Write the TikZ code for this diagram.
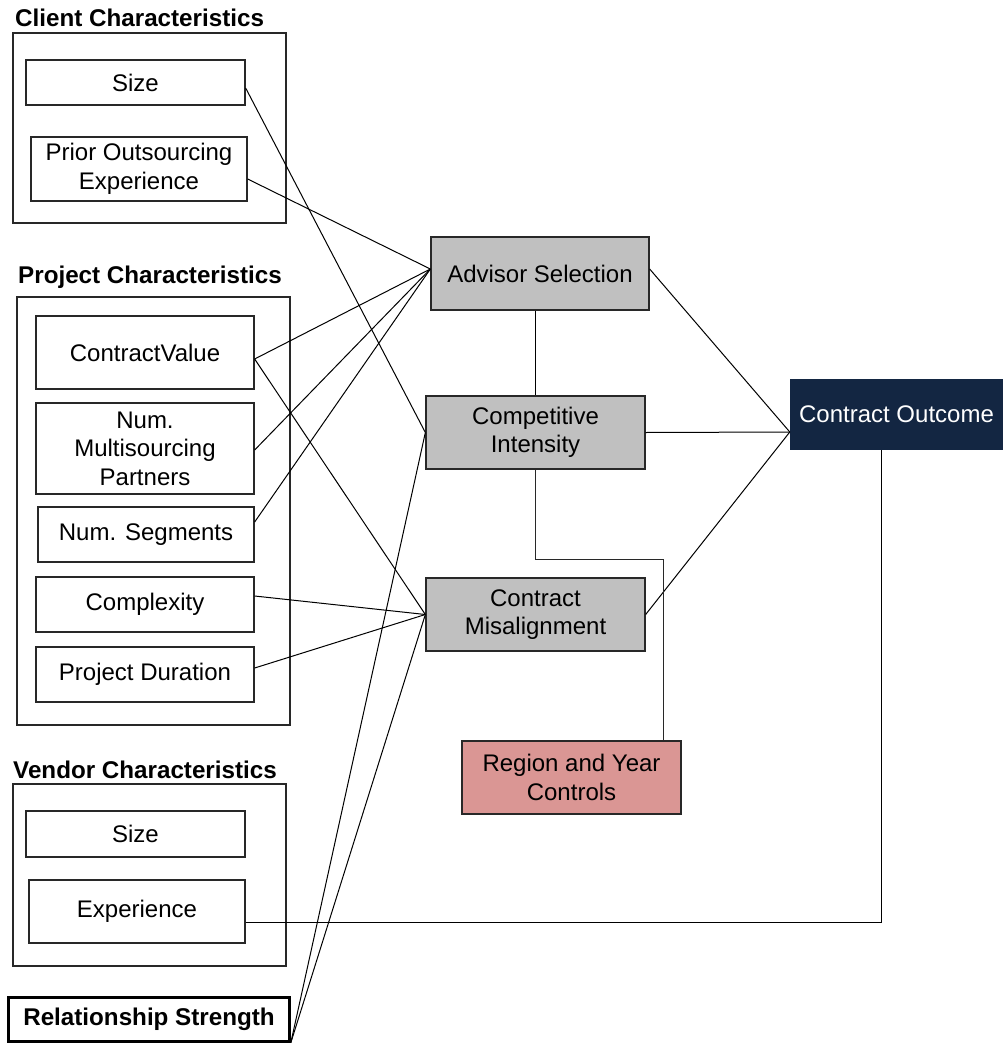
\documentclass[tikz,border=0pt]{standalone}
\usepackage{fontspec}
\setmainfont{Liberation Sans}
\usetikzlibrary{calc}
\definecolor{boxgray}{RGB}{192,192,192}
\definecolor{ctrlred}{RGB}{218,150,148}
\definecolor{navy}{RGB}{19,38,66}
\definecolor{edge}{RGB}{40,40,40}
\begin{document}
\begin{tikzpicture}[x=1pt,y=-1pt,
  txt/.style={font=\fontsize{24}{28.5}\selectfont, align=center, inner sep=0pt},
  box/.style={txt, draw=edge, line width=1.3pt, fill=white},
  frame/.style={draw=edge, line width=1.3pt, inner sep=0pt},
  var/.style={box, fill=boxgray},
  title/.style={font=\fontsize{24.2}{28}\selectfont\bfseries, inner sep=0pt, anchor=base west},
  link/.style={draw=black, line width=1pt}]
\useasboundingbox (0,0) rectangle (1003,1043);

% group frames
\node[frame, minimum width=273, minimum height=190] (cframe) at (149.5,128) {};
\node[frame, minimum width=273, minimum height=428] (pframe) at (153.5,511) {};
\node[frame, minimum width=273, minimum height=182] (vframe) at (149.5,875) {};

% titles
\node[title] (tclient) at (15,27) {Client Characteristics};
\node[title] (tproject) at (18,283) {Project Characteristics};
\node[title] (tvendor) at (13,778) {Vendor Characteristics};

% client
\node[box, minimum width=219, minimum height=45] (csize) at (135.5,82.5) {Size};
\node[box, minimum width=216, minimum height=64] (cprior) at (139,169) {Prior Outsourcing\\Experience};

% project
\node[box, minimum width=218, minimum height=73] (cv) at (145,352.5) {ContractValue};
\node[box, minimum width=218, minimum height=91] (nmp) at (145,448.5) {Num.\\Multisourcing\\Partners};
\node[box, minimum width=216, minimum height=55] (nseg) at (146,534.5) {Num. Segments};
\node[box, minimum width=218, minimum height=55] (cplx) at (145,604.5) {Complexity};
\node[box, minimum width=218, minimum height=55] (pdur) at (145,674.5) {Project Duration};

% vendor
\node[box, minimum width=219, minimum height=46] (vsize) at (135.5,834) {Size};
\node[box, minimum width=216, minimum height=63] (vexp) at (137,911.5) {Experience};

% relationship strength
\node[box, line width=2.6pt, draw=black, minimum width=281, minimum height=44, font=\fontsize{24.2}{28}\selectfont\bfseries] (rel) at (149,1019.5) {Relationship Strength};

% mediators
\node[var, minimum width=218, minimum height=73] (adv) at (540,273.5) {Advisor Selection};
\node[var, minimum width=219, minimum height=73] (comp) at (535.5,432.5) {Competitive\\Intensity};
\node[var, minimum width=219, minimum height=73] (mis) at (535.5,614.5) {Contract\\Misalignment};
\node[box, fill=ctrlred, minimum width=219, minimum height=73] (reg) at (571.5,777.5) {Region and Year\\Controls};
\node[txt, fill=navy, text=white, minimum width=213, minimum height=71] (co) at (896.5,414.5) {Contract Outcome};

% junctions
\coordinate (cin) at ([yshift=-17.5]co.west);
\coordinate (j1) at (663,559);
\coordinate (j2) at (881,922);

% client links
\draw[link] ([yshift=-5.5]csize.east) -- (comp.west);
\draw[link] ([yshift=-10]cprior.east) -- ([yshift=4.5]adv.west);

% project links
\draw[link] ([yshift=-6.5]cv.east) -- ([yshift=4.5]adv.west);
\draw[link] ([yshift=-6.5]cv.east) -- (mis.west);
\draw[link] ([yshift=-1.5]nmp.east) -- ([yshift=4.5]adv.west);
\draw[link] ([yshift=12.5]nseg.east) -- ([yshift=4.5]adv.west);
\draw[link] ([yshift=8.5]cplx.east) -- (mis.west);
\draw[link] ([yshift=6.5]pdur.east) -- (mis.west);

% relationship strength links
\draw[link] (rel.south east) -- (comp.west);
\draw[link] (rel.south east) -- (mis.west);

% mediator links
\draw[link] (adv.south -| comp.north) -- (comp.north);
\draw[link] ([yshift=4.5]adv.east) -- (cin);
\draw[link] (comp.east) -- (cin);
\draw[link] (mis.east) -- (cin);

% controls
\draw[link, draw=edge] (comp.south) |- (j1) -- (j1 |- reg.north);

% vendor experience to outcome
\draw[link] ([yshift=-10.5]vexp.east) -- (j2) -- (j2 |- co.south);
\end{tikzpicture}
\end{document}
